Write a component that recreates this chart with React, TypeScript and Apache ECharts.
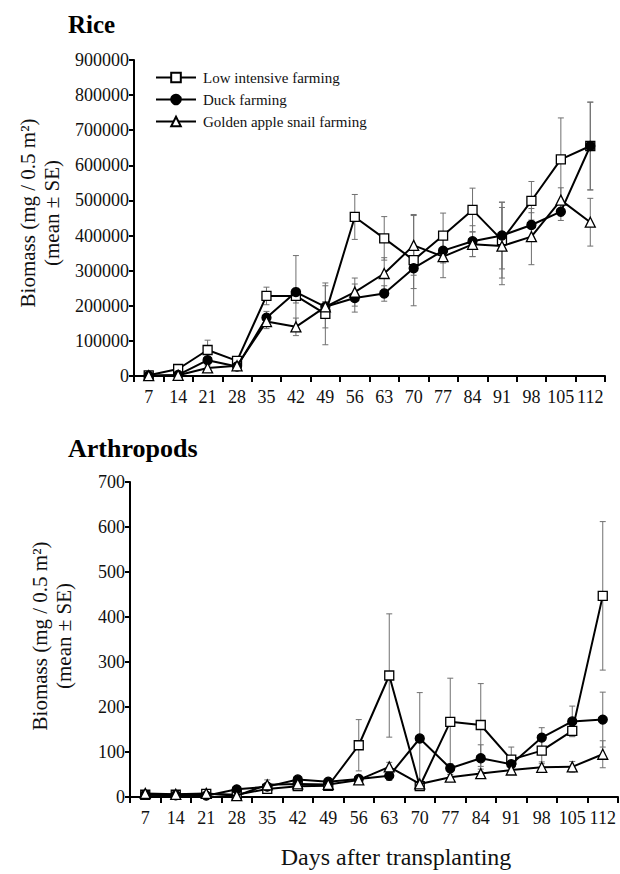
import React, { useEffect, useRef } from "react";
import * as echarts from "echarts";

const days = ["7", "14", "21", "28", "35", "42", "49", "56", "63", "70", "77", "84", "91", "98", "105", "112"];

const seriesNames = ["Low intensive farming", "Duck farming", "Golden apple snail farming"];

const riceLow = [2000, 20000, 74000, 43000, 228000, 228000, 177000, 453000, 392000, 330000, 400000, 473000, 387000, 499000, 617000, 655000];
const riceLowSE = [2000, 8000, 28000, 12000, 25000, 20000, 88000, 64000, 62000, 130000, 64000, 62000, 108000, 55000, 118000, 125000];
const riceDuck = [1000, 3000, 45000, 27000, 166000, 239000, 197000, 222000, 235000, 307000, 357000, 384000, 400000, 430000, 468000, 655000];
const riceDuckSE = [1000, 3000, 10000, 6000, 18000, 104000, 15000, 40000, 22000, 58000, 35000, 44000, 95000, 35000, 25000, 125000];
const riceSnail = [1000, 2000, 23000, 29000, 155000, 140000, 197000, 239000, 292000, 372000, 340000, 375000, 370000, 397000, 501000, 438000];
const riceSnailSE = [1000, 2000, 6000, 4000, 20000, 25000, 60000, 40000, 45000, 85000, 60000, 35000, 110000, 80000, 35000, 68000];

const arthLow = [5, 5, 7, 5, 18, 24, 25, 115, 270, 24, 167, 160, 83, 103, 147, 447];
const arthLowSE = [3, 2, 3, 2, 5, 6, 8, 57, 137, 8, 97, 92, 28, 25, 12, 165];
const arthDuck = [5, 4, 3, 17, 23, 39, 34, 40, 47, 130, 64, 86, 73, 132, 168, 172];
const arthDuckSE = [2, 2, 2, 5, 5, 6, 6, 5, 10, 102, 10, 30, 10, 22, 34, 61];
const arthSnail = [8, 6, 8, 3, 27, 29, 28, 38, 67, 29, 44, 52, 60, 66, 67, 95];
const arthSnailSE = [3, 2, 2, 2, 11, 6, 5, 5, 10, 5, 6, 10, 8, 8, 12, 30];

const riceTicks = { min: 0, max: 900000, interval: 100000 };
const arthTicks = { min: 0, max: 700, interval: 100 };

const FONT = "'Liberation Serif', 'Times New Roman', serif";

function errData(vals: number[], se: number[]) {
  return vals.map((v, i) => [i, Math.max(0, v - se[i]), v + se[i]]);
}

const renderErr = (_params: any, api: any) => {
  const x = api.value(0);
  const lo = api.coord([x, api.value(1)]);
  const hi = api.coord([x, api.value(2)]);
  const cap = 3;
  const style = { stroke: "#707070", lineWidth: 1, fill: null };
  return {
    type: "group",
    children: [
      { type: "line", shape: { x1: lo[0], y1: lo[1], x2: hi[0], y2: hi[1] }, style },
      { type: "line", shape: { x1: hi[0] - cap, y1: hi[1], x2: hi[0] + cap, y2: hi[1] }, style },
      { type: "line", shape: { x1: lo[0] - cap, y1: lo[1], x2: lo[0] + cap, y2: lo[1] }, style },
    ],
  };
};

const styles = [
  { symbol: "rect", symbolSize: 9, fill: "#ffffff" },
  { symbol: "circle", symbolSize: 9, fill: "#000000" },
  { symbol: "triangle", symbolSize: 10, fill: "#ffffff" },
];

function buildSeries(grid: number, vals: number[][], ses: number[][]) {
  const out: any[] = [];
  const order = [0, 2, 1];
  order.forEach((k) => {
    out.push({
      type: "custom",
      xAxisIndex: grid,
      yAxisIndex: grid,
      renderItem: renderErr,
      data: errData(vals[k], ses[k]),
      encode: { x: 0, y: [1, 2] },
      z: 1,
      silent: true,
    });
  });
  order.forEach((k) => {
    const s = styles[k];
    out.push({
      type: "line",
      name: seriesNames[k],
      xAxisIndex: grid,
      yAxisIndex: grid,
      data: vals[k],
      symbol: s.symbol,
      symbolSize: s.symbolSize,
      showAllSymbol: true,
      itemStyle: { color: s.fill, borderColor: "#000", borderWidth: 1.3 },
      lineStyle: { color: "#000", width: 2 },
      z: 3 + k,
    });
  });
  return out;
}

export default function App() {
  const ref = useRef<HTMLDivElement>(null);
  useEffect(() => {
    if (!ref.current) return;
    const chart = echarts.init(ref.current, undefined, { renderer: "svg" });
    const axisLine = { show: true, lineStyle: { color: "#000", width: 2 } };
    const makeX = (gridIndex: number) => ({
      type: "category",
      gridIndex,
      data: days,
      boundaryGap: true,
      axisLine,
      axisTick: { show: true, alignWithLabel: false, length: 6, lineStyle: { color: "#000", width: 2 } },
      axisLabel: { fontFamily: FONT, fontSize: 18, color: "#111", margin: 12, interval: 0 },
      splitLine: { show: false },
    });
    const makeY = (gridIndex: number, ticks: any) => ({
      type: "value",
      gridIndex,
      ...ticks,
      axisLine,
      axisTick: { show: true, length: 5, lineStyle: { color: "#000", width: 2 } },
      axisLabel: {
        fontFamily: FONT,
        fontSize: 18,
        color: "#111",
        margin: 5,
        formatter: (v: number) => String(v),
      },
      splitLine: { show: false },
    });
    const option: any = {
      animation: false,
      backgroundColor: "#ffffff",
      textStyle: { fontFamily: FONT },
      grid: [
        { left: 134, top: 60, width: 471, height: 316 },
        { left: 130, top: 482, width: 488, height: 315 },
      ],
      xAxis: [makeX(0), makeX(1)],
      yAxis: [makeY(0, riceTicks), makeY(1, arthTicks)],
      legend: {
        orient: "vertical",
        left: 150,
        top: 65,
        itemWidth: 40,
        itemHeight: 12,
        itemGap: 7,
        data: seriesNames,
        textStyle: { fontFamily: FONT, fontSize: 15, color: "#111", padding: [0, 0, 0, 2] },
        selectedMode: false,
      },
      graphic: [
        { type: "text", x: 68, y: 24, style: { text: "Rice", fontFamily: FONT, fontSize: 25, fontWeight: "bold", fill: "#000", textVerticalAlign: "middle" } },
        { type: "text", x: 68, y: 448, style: { text: "Arthropods", fontFamily: FONT, fontSize: 26, fontWeight: "bold", fill: "#000", textVerticalAlign: "middle" } },
        { type: "text", x: 28, y: 213, rotation: Math.PI / 2, style: { text: "Biomass (mg / 0.5 m²)", fontFamily: FONT, fontSize: 21, fill: "#111", textAlign: "center", textVerticalAlign: "middle" } },
        { type: "text", x: 52, y: 213, rotation: Math.PI / 2, style: { text: "(mean ± SE)", fontFamily: FONT, fontSize: 21, fill: "#111", textAlign: "center", textVerticalAlign: "middle" } },
        { type: "text", x: 40, y: 636, rotation: Math.PI / 2, style: { text: "Biomass (mg / 0.5 m²)", fontFamily: FONT, fontSize: 21, fill: "#111", textAlign: "center", textVerticalAlign: "middle" } },
        { type: "text", x: 64, y: 636, rotation: Math.PI / 2, style: { text: "(mean ± SE)", fontFamily: FONT, fontSize: 21, fill: "#111", textAlign: "center", textVerticalAlign: "middle" } },
        { type: "text", x: 396, y: 857, style: { text: "Days after transplanting", fontFamily: FONT, fontSize: 24, fill: "#111", textAlign: "center", textVerticalAlign: "middle" } },
      ],
      series: [
        ...buildSeries(0, [riceLow, riceDuck, riceSnail], [riceLowSE, riceDuckSE, riceSnailSE]),
        ...buildSeries(1, [arthLow, arthDuck, arthSnail], [arthLowSE, arthDuckSE, arthSnailSE]),
      ],
    };
    chart.setOption(option);
    return () => chart.dispose();
  }, []);
  return (
    <div
      ref={ref}
      style={{ position: "fixed", left: 0, top: 0, width: 620, height: 874, background: "#fff" }}
    />
  );
}
